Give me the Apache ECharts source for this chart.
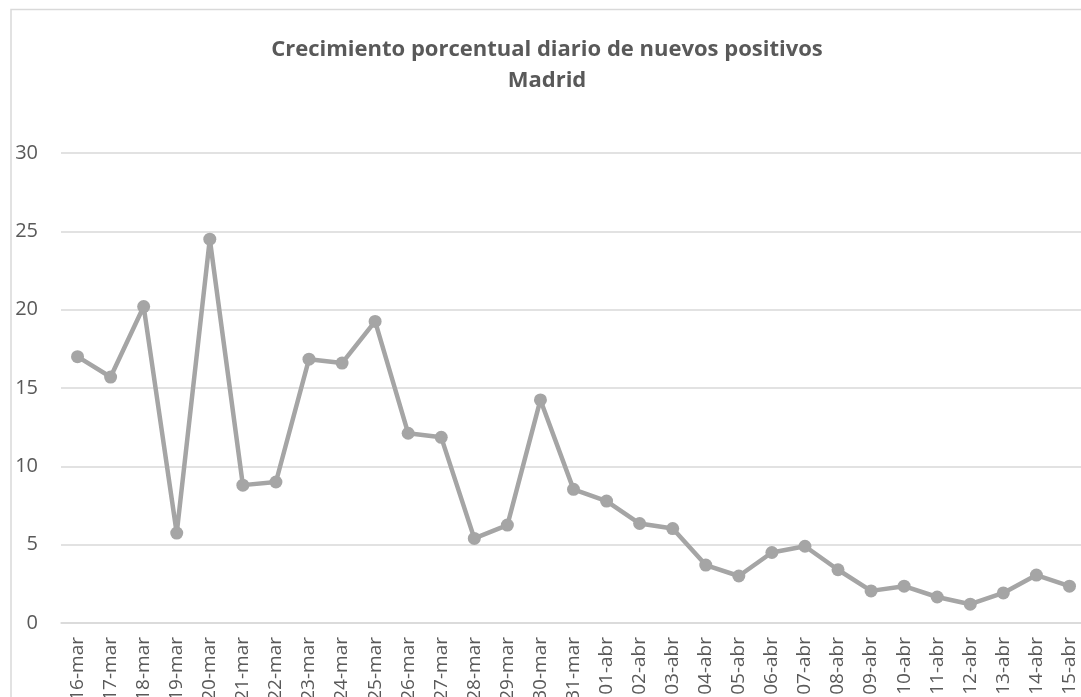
<!DOCTYPE html>
<html><head><meta charset="utf-8">
<script src="https://cdn.jsdelivr.net/npm/echarts@6/dist/echarts.min.js"></script>
<style>html,body{margin:0;padding:0;background:#fff}#c{width:1081px;height:697px}</style>
</head><body><div id="c"></div>
<script>
const titleText = 'Crecimiento porcentual diario de nuevos positivos\nMadrid';
const categories = ['16-mar','17-mar','18-mar','19-mar','20-mar','21-mar','22-mar','23-mar','24-mar','25-mar','26-mar','27-mar','28-mar','29-mar','30-mar','31-mar','01-abr','02-abr','03-abr','04-abr','05-abr','06-abr','07-abr','08-abr','09-abr','10-abr','11-abr','12-abr','13-abr','14-abr','15-abr'];
const values = [17.0,15.7,20.2,5.74,24.5,8.8,9.0,16.84,16.59,19.25,12.11,11.85,5.4,6.25,14.24,8.53,7.78,6.35,6.03,3.7,3.0,4.5,4.9,3.4,2.05,2.35,1.66,1.2,1.92,3.06,2.35];
const yTicks = {min:0, max:30, interval:5};

const chart = echarts.init(document.getElementById('c'));
chart.setOption({
  animation:false,
  backgroundColor:'#fff',
  graphic:[{type:'rect',shape:{x:11,y:9.5,width:1080,height:700},style:{fill:'none',stroke:'#d9d9d9',lineWidth:1.5},silent:true}],
  title:{text:titleText,left:542,textAlign:'center',top:29,
    textStyle:{fontFamily:'Open Sans',fontWeight:'bold',fontSize:22,color:'#595959',lineHeight:31}},
  grid:{left:61,right:-5,top:153,bottom:74,containLabel:false,outerBoundsMode:'none'},
  xAxis:{type:'category',data:categories,boundaryGap:true,
    axisLine:{show:true,lineStyle:{color:'#d9d9d9',width:1.5}},
    axisTick:{show:false},
    axisLabel:{rotate:90,interval:0,margin:14,fontFamily:'Open Sans',fontSize:19,color:'#595959'}},
  yAxis:{type:'value',min:yTicks.min,max:yTicks.max,interval:yTicks.interval,
    axisLine:{show:false},axisTick:{show:false},
    splitLine:{lineStyle:{color:'#d9d9d9',width:1.5}},
    axisLabel:{margin:23,fontFamily:'Open Sans',fontSize:20,color:'#595959'}},
  series:[{type:'line',data:values,symbol:'circle',symbolSize:13,
    lineStyle:{color:'#a5a5a5',width:4.5},itemStyle:{color:'#a5a5a5'}}]
});
</script></body></html>
